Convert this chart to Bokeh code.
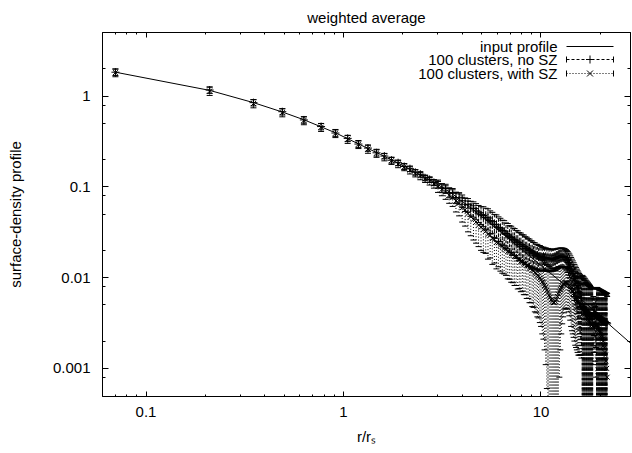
from bokeh.plotting import figure
from bokeh.models import (LogAxis, FixedTicker, CustomJSTickFormatter, Label, Arrow,
                          ColumnDataSource, Range1d)
from bokeh.embed import file_html
from bokeh.resources import INLINE

FONT = "Liberation Sans"

# ---------------- data ----------------
r_bins = [
    0.07, 0.21, 0.35, 0.49, 0.63, 0.77, 0.91, 1.05, 1.19, 1.33,
    1.47, 1.61, 1.75, 1.89, 2.03, 2.17, 2.31, 2.45, 2.59, 2.73,
    2.87, 3.01, 3.15, 3.29, 3.43, 3.57, 3.71, 3.85, 3.99, 4.13,
    4.27, 4.41, 4.55, 4.69, 4.83, 4.97, 5.11, 5.25, 5.39, 5.53,
    5.67, 5.81, 5.95, 6.09, 6.23, 6.37, 6.51, 6.65, 6.79, 6.93,
    7.07, 7.21, 7.35, 7.49, 7.63, 7.77, 7.91, 8.05, 8.19, 8.33,
    8.47, 8.61, 8.75, 8.89, 9.03, 9.17, 9.31, 9.45, 9.59, 9.73,
    9.87, 10.01, 10.15, 10.29, 10.43, 10.57, 10.71, 10.85, 10.99, 11.13,
    11.27, 11.41, 11.55, 11.69, 11.83, 11.97, 12.11, 12.25, 12.39, 12.53,
    12.67, 12.81, 12.95, 13.09, 13.23, 13.37, 13.51, 13.65, 13.79, 13.93,
    14.07, 14.21, 14.35, 14.49, 14.63, 14.77, 14.91, 15.05, 15.19, 15.33,
    15.47, 15.61, 15.75, 15.89, 16.03, 16.17, 16.31, 16.45, 16.59, 16.73,
    16.87, 17.01, 17.15, 17.29, 17.43, 17.57, 17.71, 17.85, 17.99, 18.13,
    18.27, 18.41, 18.55, 18.69, 18.83, 18.97, 19.11, 19.25, 19.39, 19.53,
    19.67, 19.81, 19.95, 20.09, 20.23, 20.37, 20.51, 20.65, 20.79, 20.93,
    21.07, 21.21, 21.35, 21.49, 21.63,
]

no_sz_val = [
    1.84, 1.17, 0.85, 0.675, 0.548, 0.463, 0.393, 0.343, 0.297, 0.268,
    0.238, 0.219, 0.197, 0.185, 0.168, 0.159, 0.145, 0.138, 0.126, 0.121,
    0.112, 0.108, 0.0975, 0.096, 0.087, 0.085, 0.0765, 0.0755, 0.0705, 0.0645,
    0.0635, 0.0585, 0.0575, 0.0545, 0.0515, 0.0495, 0.0485, 0.0462, 0.0455, 0.0425,
    0.0415, 0.0388, 0.0382, 0.0358, 0.0351, 0.0330, 0.0325, 0.0306, 0.0301, 0.0283,
    0.0279, 0.0264, 0.0262, 0.0248, 0.0246, 0.0234, 0.0232, 0.0222, 0.0221, 0.0211,
    0.0209, 0.0201, 0.0200, 0.0192, 0.0191, 0.0184, 0.0184, 0.0177, 0.0178, 0.0172,
    0.0173, 0.0170, 0.0167, 0.0169, 0.0165, 0.0167, 0.0163, 0.0165, 0.0161, 0.0163,
    0.0160, 0.0162, 0.0161, 0.0163, 0.0163, 0.0166, 0.0166, 0.0169, 0.0169, 0.0171,
    0.0171, 0.0172, 0.0171, 0.0170, 0.0167, 0.0164, 0.0159, 0.0154, 0.0147, 0.0141,
    0.0133, 0.0125, 0.0118, 0.0111, 0.0104, 0.0098, 0.0092, 0.0087, 0.0082, 0.0077,
    0.0073, 0.0069, 0.0066, 0.0063, 0.0060, 0.0050, 0.0048, 0.0047, 0.0045, 0.0044,
    0.0043, 0.0042, 0.0041, 0.0040, 0.0040, 0.0039, 0.0039, 0.0038, 0.0038, 0.0037,
    0.0037, 0.0040, 0.0041, 0.0040, 0.0039, 0.0039, 0.0038, 0.0038, 0.0037, 0.0037,
    0.0036, 0.0036, 0.0035, 0.0035, 0.0035, 0.0034, 0.0034, 0.0034, 0.0033, 0.0033,
    0.0033, 0.0032, 0.0032, 0.0032, 0.0031,
]
no_sz_err = [
    0.15, 0.095, 0.068, 0.054, 0.044, 0.037, 0.032, 0.027, 0.024, 0.021,
    0.019, 0.015, 0.014, 0.013, 0.012, 0.011, 0.010, 0.0095, 0.0089, 0.0084,
    0.0085, 0.011, 0.011, 0.011, 0.011, 0.011, 0.011, 0.011, 0.011, 0.011,
    0.011, 0.011, 0.011, 0.011, 0.011, 0.011, 0.012, 0.012, 0.012, 0.012,
    0.011, 0.011, 0.011, 0.011, 0.010, 0.010, 0.010, 0.0095, 0.0094, 0.0092,
    0.0090, 0.0088, 0.0086, 0.0084, 0.0082, 0.0080, 0.0078, 0.0076, 0.0074, 0.0072,
    0.0070, 0.0068, 0.0066, 0.0064, 0.0062, 0.0060, 0.0058, 0.0056, 0.0055, 0.0054,
    0.0053, 0.0050, 0.0049, 0.0048, 0.0047, 0.0046, 0.0046, 0.0045, 0.0045, 0.0044,
    0.0044, 0.0044, 0.0043, 0.0043, 0.0043, 0.0042, 0.0042, 0.0042, 0.0041, 0.0041,
    0.0041, 0.0040, 0.0040, 0.0040, 0.0040, 0.0040, 0.0040, 0.0040, 0.0040, 0.0041,
    0.0041, 0.0042, 0.0042, 0.0042, 0.0042, 0.0042, 0.0042, 0.0042, 0.0042, 0.0042,
    0.0042, 0.0042, 0.0042, 0.0042, 0.0042, 0.0052, 0.0050, 0.0049, 0.0048, 0.0046,
    0.0045, 0.0044, 0.0043, 0.0042, 0.0041, 0.0041, 0.0040, 0.0040, 0.0039, 0.0039,
    0.0038, 0.0022, 0.0018, 0.0017, 0.0018, 0.0022, 0.0040, 0.0040, 0.0040, 0.0039,
    0.0039, 0.0039, 0.0038, 0.0038, 0.0038, 0.0038, 0.0037, 0.0037, 0.0037, 0.0037,
    0.0036, 0.0036, 0.0036, 0.0036, 0.0036,
]

with_sz_val = [
    1.82, 1.14, 0.83, 0.66, 0.54, 0.455, 0.39, 0.336, 0.295, 0.262,
    0.236, 0.214, 0.195, 0.179, 0.166, 0.153, 0.142, 0.132, 0.123, 0.116,
    0.108, 0.101, 0.094, 0.088, 0.081, 0.077, 0.070, 0.066, 0.059, 0.056,
    0.051, 0.047, 0.044, 0.041, 0.038, 0.036, 0.034, 0.0325, 0.030, 0.0295,
    0.027, 0.0265, 0.0245, 0.0242, 0.0228, 0.0222, 0.0210, 0.0206, 0.0195, 0.0192,
    0.0183, 0.0180, 0.0172, 0.0170, 0.0161, 0.0160, 0.0152, 0.0151, 0.0144, 0.0143,
    0.0136, 0.0135, 0.0128, 0.0127, 0.0121, 0.0119, 0.0113, 0.0111, 0.0106, 0.0104,
    0.0099, 0.0095, 0.0090, 0.0087, 0.0082, 0.0078, 0.0073, 0.0069, 0.0064, 0.0061,
    0.0057, 0.0055, 0.0053, 0.0053, 0.0055, 0.0058, 0.0062, 0.0066, 0.0070, 0.0074,
    0.0078, 0.0081, 0.0084, 0.0086, 0.0088, 0.0088, 0.0088, 0.0087, 0.0085, 0.0082,
    0.0079, 0.0075, 0.0072, 0.0070, 0.0067, 0.0065, 0.0062, 0.0060, 0.0058, 0.0056,
    0.0054, 0.0052, 0.0050, 0.0049, 0.0047, 0.0046, 0.0044, 0.0043, 0.0041, 0.0040,
    0.0038, 0.0037, 0.0036, 0.0035, 0.0034, 0.0033, 0.0032, 0.0031, 0.0030, 0.0030,
    0.0029, 0.0031, 0.0032, 0.0031, 0.0030, 0.0030, 0.0030, 0.0030, 0.0029, 0.0028,
    0.0027, 0.0026, 0.0025, 0.0024, 0.0023, 0.0022, 0.0021, 0.0020, 0.0018, 0.0017,
    0.0015, 0.0014, 0.0012, 0.0010, 0.0008,
]
with_sz_err = [
    0.18, 0.12, 0.085, 0.067, 0.055, 0.046, 0.040, 0.034, 0.030, 0.027,
    0.024, 0.020, 0.018, 0.016, 0.015, 0.014, 0.013, 0.012, 0.011, 0.011,
    0.011, 0.014, 0.014, 0.015, 0.015, 0.016, 0.017, 0.018, 0.018, 0.019,
    0.019, 0.018, 0.018, 0.017, 0.016, 0.016, 0.015, 0.014, 0.014, 0.013,
    0.013, 0.012, 0.012, 0.011, 0.011, 0.011, 0.010, 0.010, 0.0098, 0.0096,
    0.0094, 0.0092, 0.0090, 0.0088, 0.0086, 0.0084, 0.0082, 0.0080, 0.0079, 0.0078,
    0.0077, 0.0076, 0.0075, 0.0074, 0.0073, 0.0072, 0.0071, 0.0070, 0.0069, 0.0068,
    0.0067, 0.0066, 0.0066, 0.0066, 0.0066, 0.0067, 0.0067, 0.0068, 0.0069, 0.0070,
    0.0071, 0.0072, 0.0072, 0.0072, 0.0071, 0.0070, 0.0068, 0.0066, 0.0062, 0.0058,
    0.0054, 0.0050, 0.0047, 0.0045, 0.0043, 0.0042, 0.0042, 0.0042, 0.0043, 0.0044,
    0.0045, 0.0046, 0.0046, 0.0046, 0.0045, 0.0045, 0.0044, 0.0043, 0.0042, 0.0041,
    0.0040, 0.0038, 0.0036, 0.0035, 0.0034, 0.0060, 0.0060, 0.0059, 0.0058, 0.0057,
    0.0056, 0.0055, 0.0054, 0.0053, 0.0052, 0.0051, 0.0050, 0.0049, 0.0048, 0.0047,
    0.0046, 0.0020, 0.0017, 0.0016, 0.0018, 0.0022, 0.0045, 0.0046, 0.0046, 0.0047,
    0.0047, 0.0048, 0.0048, 0.0049, 0.0049, 0.0050, 0.0050, 0.0051, 0.0051, 0.0052,
    0.0052, 0.0053, 0.0053, 0.0054, 0.0054,
]

profile_r = [0.07, 0.21, 0.35, 0.49, 0.63, 0.77, 0.91, 1.54, 2.0, 2.87, 3.5,
             4.5, 5.5, 7.0, 9.0, 11.0, 14.0, 18.0, 21.6, 30.0]
profile_y = [1.84, 1.16, 0.85, 0.67, 0.55, 0.46, 0.395, 0.228, 0.172, 0.113, 0.086,
             0.057, 0.040, 0.026, 0.0165, 0.0115, 0.0075, 0.0046, 0.0032, 0.00171]

x_major = [0.1, 1, 10]
x_minor = [0.07, 0.08, 0.09, 0.2, 0.3, 0.4, 0.5, 0.6, 0.7, 0.8, 0.9,
           2, 3, 4, 5, 6, 7, 8, 9, 20]
y_major = [0.001, 0.01, 0.1, 1]
y_minor = [0.0008, 0.002, 0.005, 0.008, 0.02, 0.05, 0.08, 0.2, 0.5, 0.8, 2]

legend_labels = ["input profile", "100 clusters, no SZ", "100 clusters, with SZ"]

# ---------------- figure ----------------
p = figure(width=632, height=453, x_axis_type="log", y_axis_type="log",
           x_range=Range1d(0.0602, 28.4), y_range=Range1d(0.00049, 5.04),
           output_backend="svg", toolbar_location=None,
           title="weighted average",
           min_border_left=102, min_border_right=2, min_border_top=32,
           min_border_bottom=57)
p.background_fill_color = "white"
p.border_fill_color = "white"
p.outline_line_color = "black"
p.outline_line_width = 1
p.outline_line_alpha = 1
p.xgrid.visible = False
p.ygrid.visible = False

p.title.text_font = FONT
p.title.text_font_size = "15px"
p.title.text_font_style = "normal"
p.title.text_color = "black"
p.title.align = "center"
p.title.standoff = 13

fmt = "return tick.toString();"


def style_axis(ax, major, minor, tick_major, tick_minor, labels=True):
    ax.ticker = FixedTicker(ticks=major, minor_ticks=minor)
    ax.major_tick_in = tick_major
    ax.major_tick_out = 0
    ax.minor_tick_in = tick_minor
    ax.minor_tick_out = 0
    ax.major_tick_line_color = "black"
    ax.minor_tick_line_color = "black"
    ax.axis_line_color = "black"
    if labels:
        ax.formatter = CustomJSTickFormatter(code=fmt)
        ax.major_label_text_font = FONT
        ax.major_label_text_font_size = "15px"
        ax.major_label_text_color = "black"
    else:
        ax.formatter = CustomJSTickFormatter(code="return '';")
        ax.major_label_text_font_size = "0px"
        ax.major_label_standoff = 0


xb = p.below[0]
yl = p.left[0]
style_axis(xb, x_major, x_minor, 5, 2)
xb.major_label_standoff = 10
xb.axis_label = "r/r\u209b"
xb.axis_label_text_font = FONT
xb.axis_label_text_font_size = "15px"
xb.axis_label_text_font_style = "normal"
xb.axis_label_text_color = "black"
xb.axis_label_standoff = 8

style_axis(yl, y_major, y_minor, 6, 3)
yl.major_label_standoff = 12
yl.axis_label = "surface-density profile"
yl.axis_label_text_font = FONT
yl.axis_label_text_font_size = "15px"
yl.axis_label_text_font_style = "normal"
yl.axis_label_text_color = "black"
yl.axis_label_standoff = 26

xt = LogAxis()
style_axis(xt, x_major, x_minor, 5, 2, labels=False)
p.add_layout(xt, "above")
yr = LogAxis()
style_axis(yr, y_major, y_minor, 6, 3, labels=False)
p.add_layout(yr, "right")

# ---------------- series ----------------
p.line(profile_r, profile_y, line_color="black", line_width=1)

FLOOR = 1e-6


def errorbars(vals, errs, dash, marker, msize):
    lo = [v - e if v - e > 0 else FLOOR for v, e in zip(vals, errs)]
    hi = [v + e for v, e in zip(vals, errs)]
    src = ColumnDataSource(dict(r=r_bins, y=vals, lo=lo, hi=hi))
    p.segment(x0="r", y0="lo", x1="r", y1="hi", source=src,
              line_color="black", line_width=1, line_dash=dash)
    p.scatter(x="r", y="hi", source=src, marker="dash", size=6,
              line_color="black", line_width=1)
    cap_r = [r for r, l in zip(r_bins, lo) if l > FLOOR]
    cap_lo = [l for l in lo if l > FLOOR]
    p.scatter(cap_r, cap_lo, marker="dash", size=6, line_color="black", line_width=1)
    p.scatter(x="r", y="y", source=src, marker=marker, size=msize,
              line_color="black", line_width=1)


errorbars(no_sz_val, no_sz_err, "3 2", "cross", 8)
errorbars(with_sz_val, with_sz_err, "1 2", "x", 7)

# ---------------- legend (gnuplot style: text then sample) ----------------


def seg(x0, y0, x1, y1, dash="solid"):
    p.add_layout(Arrow(x_start=x0, y_start=y0, x_end=x1, y_end=y1,
                       start_units="screen", end_units="screen",
                       start=None, end=None, line_color="black",
                       line_width=1, line_dash=dash))


row_y = [350, 337, 323]
text_x = 455
s0, s1 = 464, 511
sc = (s0 + s1) / 2
for i, (lab, yy) in enumerate(zip(legend_labels, row_y)):
    p.add_layout(Label(x=text_x, y=yy, x_units="screen", y_units="screen",
                       text=lab, text_align="right", text_baseline="middle",
                       text_font=FONT, text_font_size="15px", text_color="black"))
    if i == 0:
        seg(s0, yy, s1, yy)
    else:
        seg(s0, yy, s1, yy, "3 2" if i == 1 else "1 2")
        seg(s0, yy - 3, s0, yy + 3)
        seg(s1, yy - 3, s1, yy + 3)
        if i == 1:
            seg(sc - 4, yy, sc + 4, yy)
            seg(sc, yy - 4, sc, yy + 4)
        else:
            seg(sc - 3, yy - 3, sc + 3, yy + 3)
            seg(sc - 3, yy + 3, sc + 3, yy - 3)

open("out.html", "w").write(file_html(p, INLINE))
